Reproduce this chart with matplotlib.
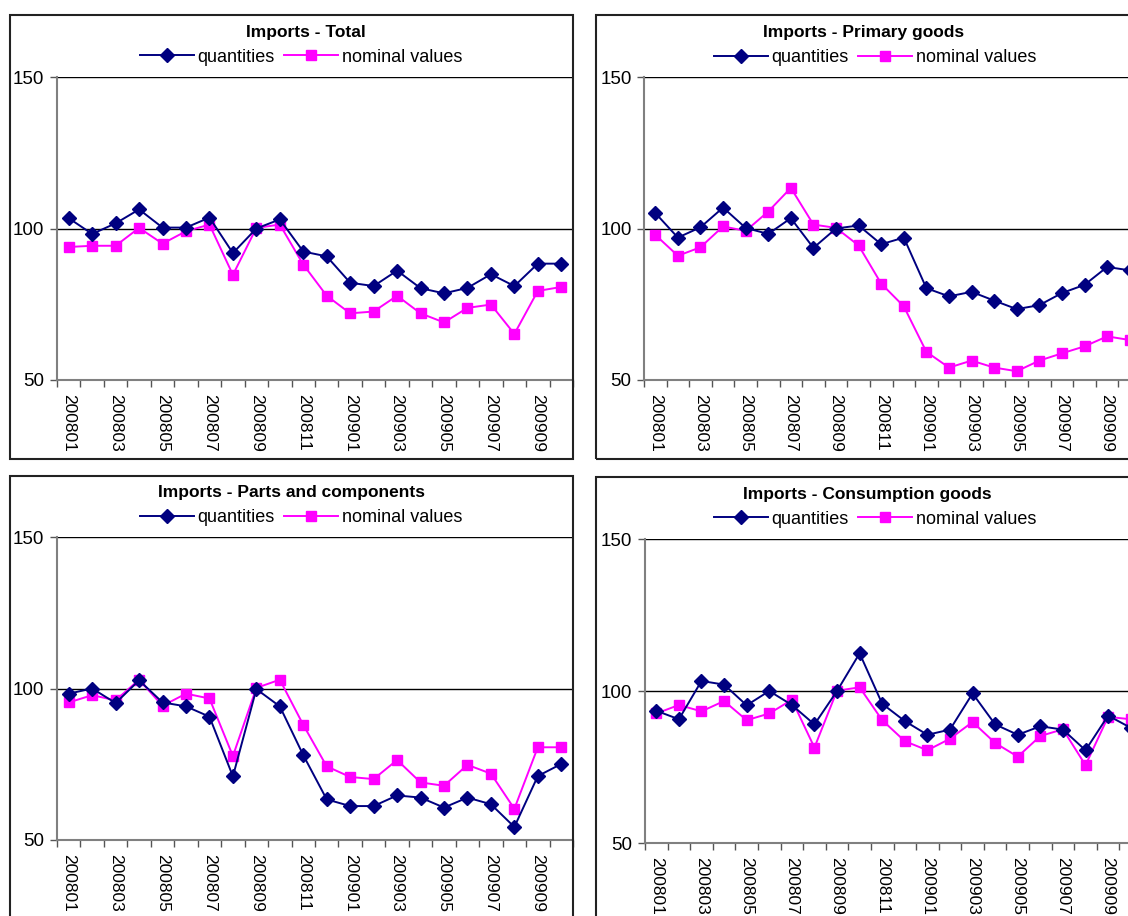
import matplotlib.pyplot as plt
import numpy as np
from matplotlib.patches import Rectangle
from matplotlib.lines import Line2D

plt.rcParams['font.family'] = ['Liberation Sans', 'DejaVu Sans']

months = ['200801', '200802', '200803', '200804', '200805', '200806', '200807', '200808',
          '200809', '200810', '200811', '200812', '200901', '200902', '200903', '200904',
          '200905', '200906', '200907', '200908', '200909', '200910']

total_q = [103.4, 98.2, 101.7, 106.3, 100.3, 100.3, 103.6, 91.9, 100.0, 103.0, 92.4,
           90.8, 82.1, 81.0, 86.1, 80.3, 78.6, 80.4, 84.9, 81.0, 88.4, 88.4]
total_v = [93.9, 94.3, 94.3, 100.2, 95.0, 99.1, 101.3, 84.7, 100.2, 101.3, 88.1,
           77.8, 72.0, 72.6, 77.8, 72.0, 69.0, 73.8, 74.9, 65.2, 79.4, 80.7]

primary_q = [105.1, 97.0, 100.4, 106.9, 100.2, 98.2, 103.4, 93.6, 100.0, 101.0, 94.8,
             97.0, 80.3, 77.6, 79.1, 76.2, 73.4, 74.7, 78.7, 81.4, 87.3, 86.2]
primary_v = [97.9, 91.0, 93.8, 100.7, 99.2, 105.6, 113.4, 101.3, 100.2, 94.4, 81.8,
             74.3, 59.3, 54.1, 56.4, 54.1, 52.9, 56.4, 58.8, 61.1, 64.4, 63.2]

parts_q = [98.3, 100.0, 95.2, 102.7, 95.4, 94.1, 90.7, 71.0, 99.8, 94.1, 78.0,
           63.4, 61.2, 61.2, 64.7, 64.0, 60.7, 64.0, 61.8, 54.3, 71.1, 75.1]
parts_v = [95.4, 97.8, 96.1, 102.9, 94.3, 98.3, 96.7, 77.7, 100.2, 102.9, 88.0,
           74.3, 70.8, 70.1, 76.4, 69.0, 67.9, 74.8, 71.9, 60.3, 80.6, 80.6]

cons_q = [93.5, 90.7, 103.3, 102.1, 95.3, 100.0, 95.4, 89.0, 100.0, 112.4, 95.8,
          90.1, 85.6, 87.3, 99.2, 89.0, 85.6, 88.4, 87.3, 80.5, 91.9, 87.9]
cons_v = [92.6, 95.4, 93.3, 96.7, 90.4, 92.6, 97.1, 81.4, 100.1, 101.2, 90.4,
          83.5, 80.5, 84.3, 89.8, 82.9, 78.4, 85.2, 87.4, 75.6, 91.5, 90.7]

W, H = 1128, 916
fig = plt.figure(figsize=(W / 100, H / 100), dpi=100)

navy = '#000080'
magenta = '#FF00FF'


def px_rect(x0, y0, x1, y1):
    return [x0 / W, 1 - y1 / H, (x1 - x0) / W, (y1 - y0) / H]


# panel: title, q, v, axes box px, frame box px, title centre, legend centre
panels = [
    ('Imports - Total', total_q, total_v, (57, 77, 573, 380), (10, 15, 573, 459), (306, 32), (301, 57)),
    ('Imports - Primary goods', primary_q, primary_v, (644, 77, 1141, 380), (596, 15, 1170, 459), (864, 32), (875, 58)),
    ('Imports - Parts and components', parts_q, parts_v, (57, 537, 573, 840), (10, 476, 573, 940), (291, 493), (301, 518)),
    ('Imports - Consumption goods', cons_q, cons_v, (645, 539, 1142, 843), (596, 477, 1170, 940), (867, 494), (875, 519)),
]

x = np.arange(len(months))

for title, q, v, abox, fbox, tpos, lpos in panels:
    fx0, fy0, fx1, fy1 = fbox
    fig.add_artist(Rectangle((fx0 / W, 1 - fy1 / H), (fx1 - fx0) / W, (fy1 - fy0) / H,
                             transform=fig.transFigure, fill=False, edgecolor='#222222', lw=1.5))

    ax = fig.add_axes(px_rect(*abox))
    ax.plot(x, q, color=navy, marker='D', markersize=7.5, lw=1.4, clip_on=False, zorder=4)
    ax.plot(x, v, color=magenta, marker='s', markersize=7.5, lw=1.4, clip_on=False, zorder=3)

    ax.set_xlim(-0.5, len(months) - 0.5)
    ax.set_ylim(50, 150)
    ax.set_yticks([50, 100, 150])
    for yy in [100, 150]:
        ax.axhline(yy, color='black', lw=1, zorder=1)

    ax.set_xticks(x[::2])
    ax.set_xticklabels(months[::2], rotation=270, fontsize=12.5)
    ax.set_xticks(np.arange(-0.5, len(months)), minor=True)
    ax.tick_params(axis='x', which='major', length=0, pad=10)
    ax.tick_params(axis='x', which='minor', length=5, width=1, color='#555555', direction='out')
    ax.tick_params(axis='y', length=5, width=1, color='#555555', labelsize=13.5, pad=4)

    for s in ['top', 'right']:
        ax.spines[s].set_visible(False)
    for s in ['left', 'bottom']:
        ax.spines[s].set_color('#808080')
        ax.spines[s].set_linewidth(1.5)

    fig.text(tpos[0] / W, 1 - tpos[1] / H, title, ha='center', va='center',
             fontsize=12.5, fontweight='bold')

    handles = [Line2D([], [], color=navy, marker='D', markersize=7.5, lw=1.4),
               Line2D([], [], color=magenta, marker='s', markersize=7.5, lw=1.4)]
    fig.legend(handles, ['quantities', 'nominal values'], loc='center',
               bbox_to_anchor=(lpos[0] / W, 1 - lpos[1] / H), ncol=2, frameon=False,
               fontsize=13, handlelength=3.0, handletextpad=0.2, columnspacing=0.5,
               borderpad=0, borderaxespad=0)

fig.savefig('out.png', dpi=100)
